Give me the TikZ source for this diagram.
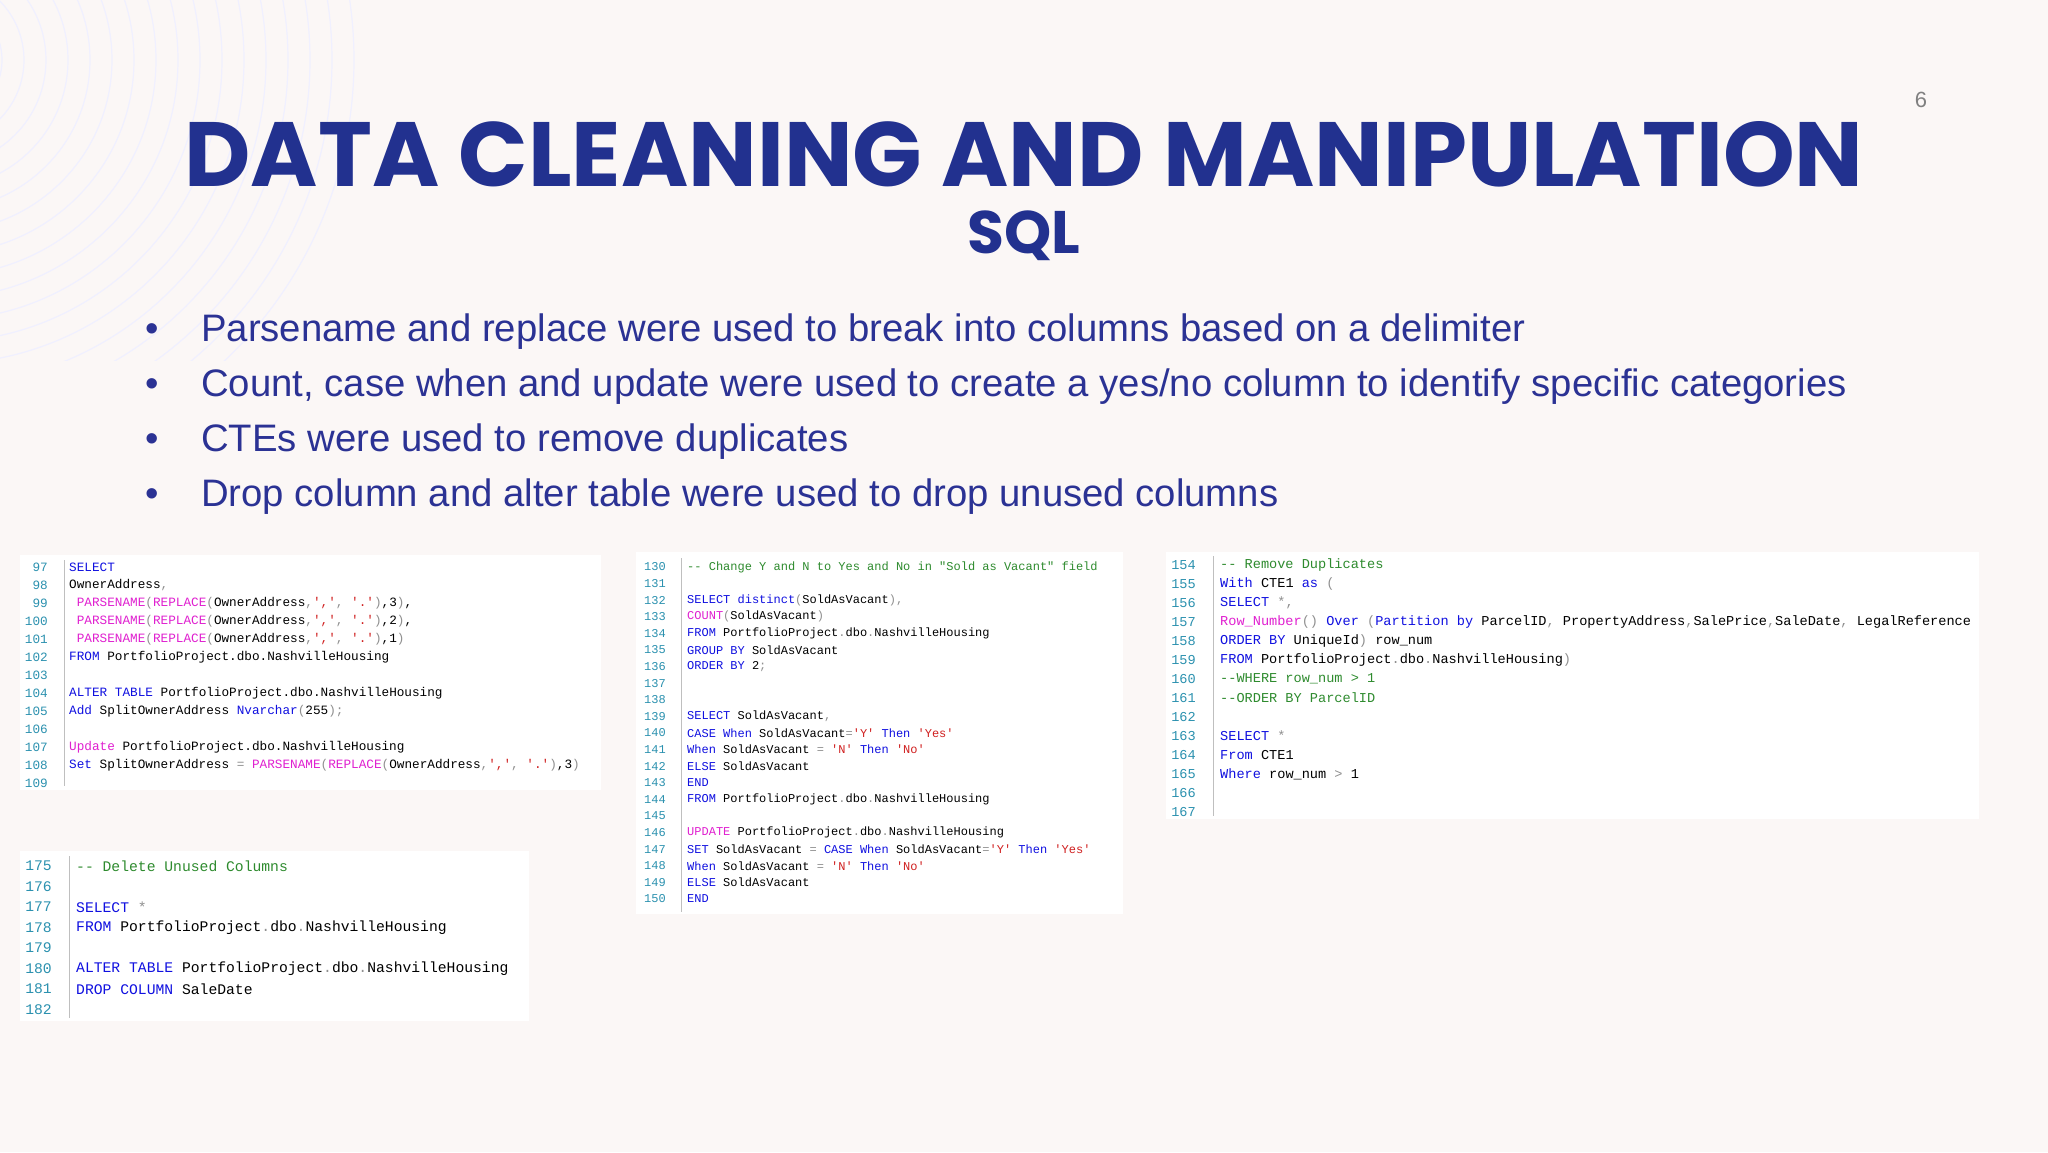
\documentclass[tikz,border=0pt]{standalone}
\usepackage{fontspec}
\setmainfont{Liberation Sans}
\newfontfamily\titlefont{Poppins}
\newfontfamily\codefont{Liberation Mono}
\definecolor{bgc}{HTML}{FBF7F6}
\definecolor{navy}{HTML}{22318F}
\definecolor{btxt}{HTML}{2B3294}
\definecolor{lnc}{HTML}{2B91AF}
\definecolor{kwc}{HTML}{1010E0}
\definecolor{fnc}{HTML}{E020D0}
\definecolor{stc}{HTML}{D02020}
\definecolor{cmc}{HTML}{2E8B2E}
\definecolor{opc}{HTML}{909090}
\newcommand\kw[1]{\textcolor{kwc}{#1}}
\newcommand\fn[1]{\textcolor{fnc}{#1}}
\newcommand\stq[1]{\textcolor{stc}{#1}}
\newcommand\cmt[1]{\textcolor{cmc}{#1}}
\newcommand\op[1]{\textcolor{opc}{#1}}
\newcommand\codeln[6]{%
  \node[lnum,anchor=east] (#1n) at (#2,#4) {#5};
  \node[ctext,anchor=west] (#1) at (#3,#4) {#6};}
\tikzset{
  lnum/.style={inner sep=0pt,text=lnc,font=\codefont\csz},
  ctext/.style={inner sep=0pt,text=black,font=\codefont\csz},
  panel/.style={fill=white,draw=none},
  bullet/.style={anchor=base west,inner sep=0pt,text=btxt,font=\fontsize{38.3}{42}\selectfont},
}
\newcommand\csz{\fontsize{12.7}{15}\selectfont}
\begin{document}
\begin{tikzpicture}[x=1pt,y=-1pt]
\fill[bgc] (0,0) rectangle (2048,1152);
\useasboundingbox (0,0) rectangle (2048,1152);
\begin{scope}
\clip (0,0) rectangle (400,360);
\foreach \r in {40,62,...,420} \draw[color=blue!6,line width=1.2pt] (-60,60) circle (\r);
\end{scope}
\node[text=gray,font=\fontsize{22}{24}\selectfont] (pg) at (1921,100) {6};
\node[text=navy,font=\titlefont\bfseries\fontsize{91.3}{100}\selectfont,inner sep=0pt] (title) at (1024,154) {DATA CLEANING AND MANIPULATION};
\node[text=navy,font=\titlefont\bfseries\fontsize{60}{64}\selectfont,inner sep=0pt] (sql) at (1024,236) {SQL};
\foreach \yy/\t [count=\i] in {341/{Parsename and replace were used to break into columns based on a delimiter},
  396/{Count, case when and update were used to create a yes/no column to identify specific categories},
  451/{CTEs were used to remove duplicates},
  506/{Drop column and alter table were used to drop unused columns}}{
  \node[bullet] (bd\i) at (145,\yy) {•};
  \node[bullet] (b\i) at (201,\yy) {\t};
}
\fill[panel] (20,555) rectangle (601,790);
\fill[panel] (636,552) rectangle (1123,914);
\fill[panel] (1166,552) rectangle (1979,819);
\fill[panel] (20,851) rectangle (529,1021);
\draw[gray!50] (64,560) -- (64,786);
\begin{scope}
\renewcommand\csz{\fontsize{12.7}{15}\selectfont}
\codeln{a97}{48}{69}{567}{97}{\kw{SELECT}}
\codeln{a98}{48}{69}{585}{98}{OwnerAddress\op{,}}
\codeln{a99}{48}{69}{603}{99}{\ \fn{PARSENAME}\op{(}\fn{REPLACE}\op{(}OwnerAddress\op{,}\stq{','}\op{,} \stq{'.'}\op{)},3\op{)},}
\codeln{a100}{48}{69}{621}{100}{\ \fn{PARSENAME}\op{(}\fn{REPLACE}\op{(}OwnerAddress\op{,}\stq{','}\op{,} \stq{'.'}\op{)},2\op{)},}
\codeln{a101}{48}{69}{639}{101}{\ \fn{PARSENAME}\op{(}\fn{REPLACE}\op{(}OwnerAddress\op{,}\stq{','}\op{,} \stq{'.'}\op{)},1\op{)}}
\codeln{a102}{48}{69}{657}{102}{\kw{FROM} PortfolioProject.dbo.NashvilleHousing}
\codeln{a103}{48}{69}{675}{103}{}
\codeln{a104}{48}{69}{693}{104}{\kw{ALTER TABLE} PortfolioProject.dbo.NashvilleHousing}
\codeln{a105}{48}{69}{711}{105}{\kw{Add} SplitOwnerAddress \kw{Nvarchar}\op{(}255\op{);}}
\codeln{a106}{48}{69}{729}{106}{}
\codeln{a107}{48}{69}{747}{107}{\fn{Update} PortfolioProject.dbo.NashvilleHousing}
\codeln{a108}{48}{69}{765}{108}{\kw{Set} SplitOwnerAddress \op{=} \fn{PARSENAME}\op{(}\fn{REPLACE}\op{(}OwnerAddress\op{,}\stq{','}\op{,} \stq{'.'}\op{)},3\op{)}}
\codeln{a109}{48}{69}{783}{109}{}
\end{scope}
\draw[gray!50] (681,558) -- (681,912);
\begin{scope}
\renewcommand\csz{\fontsize{12}{14}\selectfont}
\codeln{b130}{666}{687}{567}{130}{\cmt{-{}- Change Y and N to Yes and No in "Sold as Vacant" field}}
\codeln{b131}{666}{687}{583.6}{131}{}
\codeln{b132}{666}{687}{600.2}{132}{\kw{SELECT distinct}\op{(}SoldAsVacant\op{),}}
\codeln{b133}{666}{687}{616.8}{133}{\fn{COUNT}\op{(}SoldAsVacant\op{)}}
\codeln{b134}{666}{687}{633.4}{134}{\kw{FROM} PortfolioProject\op{.}dbo\op{.}NashvilleHousing}
\codeln{b135}{666}{687}{650}{135}{\kw{GROUP BY} SoldAsVacant}
\codeln{b136}{666}{687}{666.6}{136}{\kw{ORDER BY} 2\op{;}}
\codeln{b137}{666}{687}{683.2}{137}{}
\codeln{b138}{666}{687}{699.8}{138}{}
\codeln{b139}{666}{687}{716.4}{139}{\kw{SELECT} SoldAsVacant\op{,}}
\codeln{b140}{666}{687}{733}{140}{\kw{CASE When} SoldAsVacant\op{=}\stq{'Y'} \kw{Then} \stq{'Yes'}}
\codeln{b141}{666}{687}{749.6}{141}{\kw{When} SoldAsVacant \op{=} \stq{'N'} \kw{Then} \stq{'No'}}
\codeln{b142}{666}{687}{766.2}{142}{\kw{ELSE} SoldAsVacant}
\codeln{b143}{666}{687}{782.8}{143}{\kw{END}}
\codeln{b144}{666}{687}{799.4}{144}{\kw{FROM} PortfolioProject\op{.}dbo\op{.}NashvilleHousing}
\codeln{b145}{666}{687}{816}{145}{}
\codeln{b146}{666}{687}{832.6}{146}{\fn{UPDATE} PortfolioProject\op{.}dbo\op{.}NashvilleHousing}
\codeln{b147}{666}{687}{849.2}{147}{\kw{SET} SoldAsVacant \op{=} \kw{CASE When} SoldAsVacant\op{=}\stq{'Y'} \kw{Then} \stq{'Yes'}}
\codeln{b148}{666}{687}{865.8}{148}{\kw{When} SoldAsVacant \op{=} \stq{'N'} \kw{Then} \stq{'No'}}
\codeln{b149}{666}{687}{882.4}{149}{\kw{ELSE} SoldAsVacant}
\codeln{b150}{666}{687}{899}{150}{\kw{END}}
\end{scope}
\draw[gray!50] (1213,556) -- (1213,816);
\begin{scope}
\renewcommand\csz{\fontsize{13.6}{16}\selectfont}
\codeln{c154}{1196}{1220}{565}{154}{\cmt{-{}- Remove Duplicates}}
\codeln{c155}{1196}{1220}{584}{155}{\kw{With} CTE1 \kw{as} \op{(}}
\codeln{c156}{1196}{1220}{603}{156}{\kw{SELECT} \op{*,}}
\codeln{c157}{1196}{1220}{622}{157}{\fn{Row\_Number}\op{()} \kw{Over} \op{(}\kw{Partition by} ParcelID\op{,} PropertyAddress\op{,}SalePrice\op{,}SaleDate\op{,} LegalReference}
\codeln{c158}{1196}{1220}{641}{158}{\kw{ORDER BY} UniqueId\op{)} row\_num}
\codeln{c159}{1196}{1220}{660}{159}{\kw{FROM} PortfolioProject\op{.}dbo\op{.}NashvilleHousing\op{)}}
\codeln{c160}{1196}{1220}{679}{160}{\cmt{-{}-WHERE row\_num > 1}}
\codeln{c161}{1196}{1220}{698}{161}{\cmt{-{}-ORDER BY ParcelID}}
\codeln{c162}{1196}{1220}{717}{162}{}
\codeln{c163}{1196}{1220}{736}{163}{\kw{SELECT} \op{*}}
\codeln{c164}{1196}{1220}{755}{164}{\kw{From} CTE1}
\codeln{c165}{1196}{1220}{774}{165}{\kw{Where} row\_num \op{>} 1}
\codeln{c166}{1196}{1220}{793}{166}{}
\codeln{c167}{1196}{1220}{812}{167}{}
\end{scope}
\draw[gray!50] (69,856) -- (69,1018);
\begin{scope}
\renewcommand\csz{\fontsize{14.7}{17}\selectfont}
\codeln{d175}{52}{76}{866}{175}{\cmt{-{}- Delete Unused Columns}}
\codeln{d176}{52}{76}{886.5}{176}{}
\codeln{d177}{52}{76}{907}{177}{\kw{SELECT} \op{*}}
\codeln{d178}{52}{76}{927.5}{178}{\kw{FROM} PortfolioProject\op{.}dbo\op{.}NashvilleHousing}
\codeln{d179}{52}{76}{948}{179}{}
\codeln{d180}{52}{76}{968.5}{180}{\kw{ALTER TABLE} PortfolioProject\op{.}dbo\op{.}NashvilleHousing}
\codeln{d181}{52}{76}{989}{181}{\kw{DROP COLUMN} SaleDate}
\codeln{d182}{52}{76}{1009.5}{182}{}
\end{scope}
\end{tikzpicture}
\end{document}
